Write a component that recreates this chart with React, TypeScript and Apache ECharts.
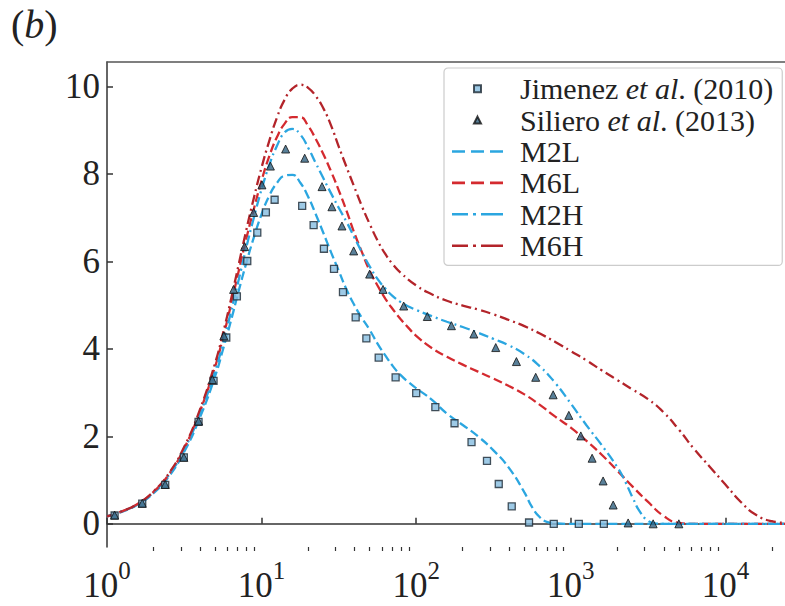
import React, { useEffect, useRef } from "react";
import * as echarts from "echarts";

const SERIF = "'Liberation Serif', 'Times New Roman', serif";

// Reference data (markers)
const jimenezX = [1.12, 1.69, 2.38, 3.14, 3.91, 4.89, 5.91, 6.92, 8.08, 9.38, 10.66, 12.14, 18.3, 21.7, 25.3, 29.4, 33.6, 40.6, 47.6, 57.2, 73.6, 100, 133, 177, 228, 287, 342, 415, 537, 776, 1127, 1636];
const jimenezY = [0.19, 0.46, 0.89, 1.52, 2.33, 3.27, 4.26, 5.2, 6.01, 6.66, 7.12, 7.41, 7.27, 6.83, 6.29, 5.83, 5.3, 4.72, 4.24, 3.8, 3.35, 2.99, 2.67, 2.3, 1.87, 1.44, 0.91, 0.4, 0.03, 0, 0, 0];

const silieroX = [1.12, 1.69, 2.38, 3.14, 3.91, 4.8, 5.7, 6.59, 7.76, 8.88, 10.05, 11.4, 14.3, 19.0, 24.6, 28.5, 33.1, 39.4, 50, 61, 83, 118, 169, 236, 327, 445, 593, 769, 971, 1161, 1374, 1618, 1880, 2350, 3410, 5000];
const silieroY = [0.2, 0.47, 0.9, 1.52, 2.35, 3.3, 4.3, 5.36, 6.34, 7.12, 7.75, 8.18, 8.57, 8.36, 7.71, 7.25, 6.81, 6.24, 5.71, 5.36, 4.98, 4.74, 4.53, 4.34, 4.03, 3.71, 3.35, 2.95, 2.48, 2.01, 1.5, 0.98, 0.43, 0.02, 0, 0];

// Model curves
const m2lX = [1, 1.26, 1.585, 2.0, 2.51, 3.16, 3.98, 5.01, 5.62, 6.31, 7.08, 7.94, 8.91, 10, 11.2, 12.6, 14.1, 15.8, 17.8, 20, 22.4, 25.1, 28.2, 31.6, 35.5, 39.8, 44.7, 50.1, 56.2, 63.1, 70.8, 79.4, 89.1, 100, 126, 158, 200, 251, 316, 398, 501, 562, 631, 708, 794, 1000, 25000];
const m2lY = [0.17, 0.28, 0.44, 0.7, 1.08, 1.65, 2.42, 3.38, 3.98, 4.62, 5.3, 5.95, 6.55, 7.08, 7.5, 7.8, 7.96, 7.98, 7.8, 7.48, 7.08, 6.65, 6.2, 5.78, 5.35, 5.0, 4.7, 4.43, 4.12, 3.85, 3.6, 3.4, 3.24, 3.1, 2.84, 2.52, 2.26, 2.0, 1.68, 1.28, 0.72, 0.38, 0.15, 0.04, 0.01, 0, 0];

const m6lX = [1, 1.26, 1.585, 2.0, 2.51, 3.16, 3.98, 5.01, 5.62, 6.31, 7.08, 7.94, 8.91, 10, 11.2, 12.6, 14.1, 15.8, 17.8, 20, 22.4, 25.1, 28.2, 31.6, 35.5, 39.8, 44.7, 50.1, 56.2, 63.1, 70.8, 79.4, 89.1, 100, 126, 158, 200, 251, 316, 398, 501, 631, 794, 1000, 1259, 1585, 1995, 2512, 3162, 3981, 5012, 6310, 25000];
const m6lY = [0.17, 0.29, 0.46, 0.73, 1.13, 1.73, 2.56, 3.6, 4.25, 4.98, 5.75, 6.5, 7.2, 7.85, 8.4, 8.85, 9.15, 9.3, 9.3, 9.1, 8.8, 8.45, 8.05, 7.62, 7.15, 6.65, 6.2, 5.78, 5.45, 5.15, 4.9, 4.68, 4.48, 4.3, 4.02, 3.82, 3.64, 3.48, 3.32, 3.15, 2.96, 2.72, 2.45, 2.2, 1.9, 1.58, 1.22, 0.85, 0.5, 0.18, 0.02, 0, 0];

const m2hX = [1, 1.26, 1.585, 2.0, 2.51, 3.16, 3.98, 5.01, 5.62, 6.31, 7.08, 7.94, 8.91, 10, 11.2, 12.6, 14.1, 15.8, 17.8, 20, 22.4, 25.1, 28.2, 31.6, 35.5, 39.8, 44.7, 50.1, 56.2, 63.1, 70.8, 79.4, 89.1, 100, 126, 158, 200, 251, 316, 398, 501, 631, 794, 1000, 1259, 1585, 1995, 2239, 2512, 2818, 3162, 3548, 4000, 25000];
const m2hY = [0.17, 0.29, 0.45, 0.72, 1.11, 1.7, 2.5, 3.5, 4.12, 4.82, 5.55, 6.3, 7.0, 7.65, 8.2, 8.65, 8.95, 9.03, 8.9, 8.6, 8.25, 7.9, 7.55, 7.22, 6.9, 6.55, 6.2, 5.88, 5.6, 5.38, 5.2, 5.07, 4.97, 4.89, 4.75, 4.62, 4.5, 4.37, 4.23, 4.08, 3.88, 3.6, 3.22, 2.75, 2.26, 1.8, 1.3, 0.98, 0.6, 0.26, 0.07, 0.01, 0, 0];

const m6hX = [1, 1.26, 1.585, 2.0, 2.51, 3.16, 3.98, 5.01, 5.62, 6.31, 7.08, 7.94, 8.91, 10, 11.2, 12.6, 14.1, 15.8, 17.8, 20, 22.4, 25.1, 28.2, 31.6, 35.5, 39.8, 44.7, 50.1, 56.2, 63.1, 70.8, 79.4, 100, 126, 158, 200, 251, 316, 398, 501, 631, 794, 1000, 1259, 1585, 1995, 2512, 3162, 3981, 5012, 6310, 7943, 10000, 12590, 15850, 19950, 25000];
const m6hY = [0.17, 0.29, 0.46, 0.74, 1.15, 1.76, 2.6, 3.68, 4.35, 5.1, 5.9, 6.7, 7.45, 8.15, 8.75, 9.3, 9.7, 9.95, 10.04, 9.97, 9.78, 9.5, 9.1, 8.62, 8.15, 7.7, 7.25, 6.85, 6.48, 6.17, 5.93, 5.74, 5.45, 5.25, 5.1, 4.99, 4.9, 4.79, 4.66, 4.52, 4.35, 4.16, 3.95, 3.74, 3.51, 3.29, 3.07, 2.85, 2.55, 2.15, 1.7, 1.3, 0.9, 0.5, 0.2, 0.06, 0.02];

const xMajorTicks = [1, 10, 100, 1000, 10000];
const xMinorTicks = [2, 3, 4, 5, 6, 7, 8, 9, 20, 30, 40, 50, 60, 70, 80, 90, 200, 300, 400, 500, 600, 700, 800, 900, 2000, 3000, 4000, 5000, 6000, 7000, 8000, 9000, 20000];
const yTicks = [0, 2, 4, 6, 8, 10];

const legendNames = ["Jimenez et al. (2010)", "Siliero et al. (2013)", "M2L", "M6L", "M2H", "M6H"];

const X_MIN = 1;
const X_MAX = 24300;
const Y_MIN = -0.53;
const Y_MAX = 10.56;

const zip = (xs: number[], ys: number[]) => xs.map((x, i) => [x, ys[i]]);

const BLUE = "#2ba6e0";
const RED = "#d42a2f";
const DARKRED = "#b3242a";

const ICON_SQUARE = "path://M0,0L1,0L1,1L0,1Z";
const ICON_TRIANGLE = "path://M0.5,0L1,1L0,1Z";
const ICON_DASHED = "path://M0,0h13v2.6h-13zM19,0h13v2.6h-13zM38,0h13v2.6h-13z";
const ICON_DASHDOT = "path://M0,0h16v2.6h-16zM21,0h3v2.6h-3zM29,0h22v2.6h-22z";

export default function App() {
  const ref = useRef<HTMLDivElement>(null);

  useEffect(() => {
    if (!ref.current) return;
    const chart = echarts.init(ref.current, undefined, { renderer: "svg" });

    const lineSeries = (name: string, xs: number[], ys: number[], color: string, dash: number[]) => ({
      name,
      type: "line",
      xAxisIndex: 0,
      yAxisIndex: 0,
      data: zip(xs, ys),
      symbol: "none",
      smooth: 0.5,
      lineStyle: { color, width: 2.3, type: dash },
      itemStyle: { color },
      z: 2,
    });

    const icons: Record<string, string> = {
      [legendNames[0]]: ICON_SQUARE,
      [legendNames[1]]: ICON_TRIANGLE,
      M2L: ICON_DASHED,
      M6L: ICON_DASHED,
      M2H: ICON_DASHDOT,
      M6H: ICON_DASHDOT,
    };

    const option: any = {
      animation: false,
      backgroundColor: "#ffffff",
      grid: { left: 107, right: 0, top: 62, bottom: 59, containLabel: false },
      xAxis: [
        {
          type: "log",
          logBase: 10,
          min: X_MIN,
          max: X_MAX,
          position: "bottom",
          axisLine: { show: true, lineStyle: { color: "#333", width: 1.5 } },
          axisTick: { show: true, inside: true, length: 6, customValues: xMajorTicks, lineStyle: { color: "#333", width: 1.5 } },
          splitLine: { show: false },
          minorTick: { show: false },
          axisLabel: {
            show: true,
            customValues: xMajorTicks,
            margin: 11,
            formatter: (v: number) => `{b|10}{s|${Math.round(Math.log10(v))}}`,
            rich: {
              b: { fontSize: 35, fontFamily: SERIF, color: "#222", padding: [10, 0, 0, 0], verticalAlign: "bottom" },
              s: { fontSize: 25, fontFamily: SERIF, color: "#222", verticalAlign: "top" },
            },
          },
        },
        {
          type: "log",
          logBase: 10,
          min: X_MIN,
          max: X_MAX,
          position: "bottom",
          axisLine: { show: false },
          axisTick: { show: true, inside: false, length: 4, customValues: xMinorTicks, lineStyle: { color: "#333", width: 1.2 } },
          axisLabel: { show: false },
          splitLine: { show: false },
        },
        {
          type: "log",
          logBase: 10,
          min: X_MIN,
          max: X_MAX,
          position: "top",
          axisLine: { show: true, lineStyle: { color: "#555", width: 1.5 } },
          axisTick: { show: false },
          axisLabel: { show: false },
          splitLine: { show: false },
        },
      ],
      yAxis: {
        type: "value",
        min: Y_MIN,
        max: Y_MAX,
        axisLine: { show: true, lineStyle: { color: "#333", width: 1.5 } },
        axisTick: { show: true, inside: true, length: 6, customValues: yTicks, lineStyle: { color: "#333", width: 1.5 } },
        splitLine: { show: false },
        axisLabel: {
          customValues: yTicks,
          margin: 7,
          fontSize: 35,
          fontFamily: SERIF,
          color: "#222",
        },
      },
      legend: {
        orient: "vertical",
        left: 444,
        top: 68,
        padding: [5, 9, 4, 8],
        itemWidth: 51,
        itemHeight: 7,
        itemGap: 0,
        borderColor: "#cccccc",
        borderWidth: 1.2,
        borderRadius: 4,
        backgroundColor: "#ffffff",
        data: legendNames.map((n) => ({ name: n, icon: icons[n] })),
        formatter: (name: string) => {
          const m = name.match(/^(\S+) et al(\..*)$/);
          if (m) return `{n|${m[1]} }{i|et al}{n|${m[2]}}`;
          return `{n|${name}}`;
        },
        textStyle: {
          fontSize: 30,
          fontFamily: SERIF,
          color: "#222",
          lineHeight: 31.4,
          padding: [0, 0, 0, 12],
          rich: {
            n: { fontSize: 30, fontFamily: SERIF, color: "#222", lineHeight: 31.4 },
            i: { fontSize: 30, fontFamily: SERIF, fontStyle: "italic", color: "#222", lineHeight: 31.4 },
          },
        },
      },
      graphic: [
        {
          type: "text",
          left: 11,
          top: 4,
          style: {
            text: "({i|b})",
            fontSize: 40,
            fontFamily: SERIF,
            fill: "#222",
            rich: { i: { fontSize: 40, fontFamily: SERIF, fontStyle: "italic", fill: "#222" } },
          },
        },
      ],
      series: [
        lineSeries("M2L", m2lX, m2lY, BLUE, [9, 4]),
        lineSeries("M6L", m6lX, m6lY, RED, [9, 4]),
        lineSeries("M2H", m2hX, m2hY, BLUE, [10, 4, 2, 4]),
        lineSeries("M6H", m6hX, m6hY, DARKRED, [10, 4, 2, 4]),
        {
          name: legendNames[0],
          type: "scatter",
          data: zip(jimenezX, jimenezY),
          symbol: "rect",
          symbolSize: 7,
          itemStyle: { color: "#86bde0", borderColor: "#1c2833", borderWidth: 1.3 },
          z: 4,
        },
        {
          name: legendNames[1],
          type: "scatter",
          data: zip(silieroX, silieroY),
          symbol: "triangle",
          symbolSize: 8,
          itemStyle: { color: "#2f607f", borderColor: "#111", borderWidth: 1 },
          z: 5,
        },
      ],
    };

    chart.setOption(option);
    return () => chart.dispose();
  }, []);

  return (
    <div
      ref={ref}
      style={{ position: "fixed", left: 0, top: 0, width: 785, height: 606, background: "#fff" }}
    />
  );
}
